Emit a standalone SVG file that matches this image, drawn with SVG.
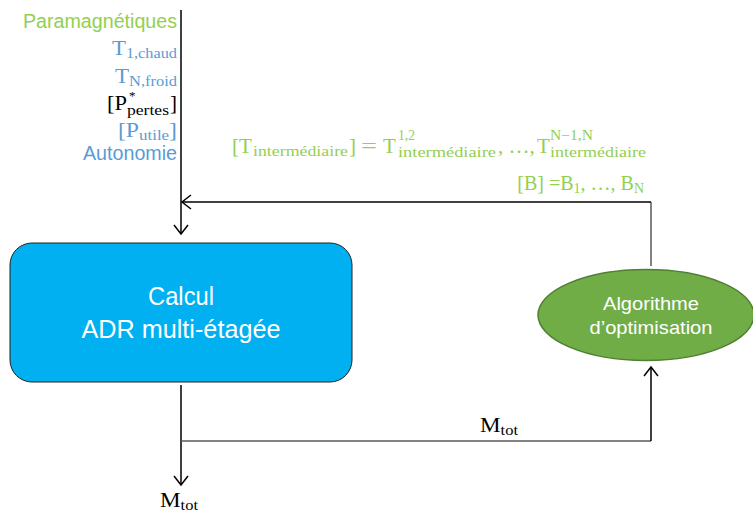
<svg xmlns="http://www.w3.org/2000/svg" width="753" height="513" viewBox="0 0 753 513">
<defs>
<marker id="arr" markerUnits="userSpaceOnUse" markerWidth="20" markerHeight="20" refX="10" refY="8" orient="auto">
<path d="M1,1 L10,8 L1,15" fill="none" stroke="#000" stroke-width="1.5"/>
</marker>
<style>
.sans{font-family:"Liberation Sans",Arial,sans-serif}
.serif{font-family:"Liberation Serif","Times New Roman",serif}
.green{fill:#92D050}
.blue{fill:#5B9BD5}
.wht{fill:#FFFFFF}
.blk{fill:#000000}
.line{fill:none;stroke:#000;stroke-width:1.5}
.gline{fill:none;stroke:#595959;stroke-width:1.5}
</style>
</defs>
<rect width="753" height="513" fill="#FFFFFF"/>

<g id="connectors">
<path class="line" d="M181,10 L181,234" marker-end="url(#arr)"/>
<path class="gline" d="M651,266 L651,202"/>
<path class="line" d="M651,202 L182,202" marker-end="url(#arr)"/>
<path class="line" d="M181,385 L181,485" marker-end="url(#arr)"/>
<path class="gline" d="M181,441 L651,441"/>
<path class="line" d="M651,441 L651,367" marker-end="url(#arr)"/>
</g>

<g id="inputs-labels">
<text class="sans green" x="177" y="28" font-size="20" text-anchor="end" textLength="154" lengthAdjust="spacingAndGlyphs">Paramagnétiques</text>
<text class="serif blue" x="177" y="55" font-size="21" text-anchor="end" textLength="65" lengthAdjust="spacingAndGlyphs">T<tspan font-size="15" dy="3">1,chaud</tspan></text>
<text class="serif blue" x="177" y="83" font-size="21" text-anchor="end" textLength="62" lengthAdjust="spacingAndGlyphs">T<tspan font-size="15" dy="3">N,froid</tspan></text>
<text class="serif blk" x="107" y="110" font-size="21" textLength="20" lengthAdjust="spacingAndGlyphs">[P</text>
<text class="serif blk" x="129" y="100" font-size="13">*</text>
<text class="serif blk" x="127" y="115" font-size="14" textLength="42" lengthAdjust="spacingAndGlyphs">pertes</text>
<text class="serif blk" x="170" y="110" font-size="21">]</text>
<text class="serif blue" x="177" y="137" font-size="21" text-anchor="end" textLength="59" lengthAdjust="spacingAndGlyphs">[P<tspan font-size="15" dy="3">utile</tspan><tspan dy="-3">]</tspan></text>
<text class="sans blue" x="177" y="160" font-size="20" text-anchor="end" textLength="94" lengthAdjust="spacingAndGlyphs">Autonomie</text>
</g>

<g id="feedback-labels">
<text class="serif green" x="232" y="153" font-size="21">[T</text>
<text class="serif green" x="253" y="156" font-size="15" textLength="95" lengthAdjust="spacingAndGlyphs">intermédiaire</text>
<text class="serif green" x="349" y="153" font-size="21">]</text>
<text class="serif green" x="361" y="153" font-size="21" textLength="16" lengthAdjust="spacingAndGlyphs">=</text>
<text class="serif green" x="383" y="153" font-size="21">T</text>
<text class="serif green" x="398" y="140" font-size="14" textLength="17" lengthAdjust="spacingAndGlyphs">1,2</text>
<text class="serif green" x="398" y="157" font-size="15" textLength="98" lengthAdjust="spacingAndGlyphs">intermédiaire</text>
<text class="serif green" x="498" y="153" font-size="21">, …,</text>
<text class="serif green" x="537" y="153" font-size="21">T</text>
<text class="serif green" x="550" y="140" font-size="14" textLength="43" lengthAdjust="spacingAndGlyphs">N−1,N</text>
<text class="serif green" x="550" y="157" font-size="15" textLength="96" lengthAdjust="spacingAndGlyphs">intermédiaire</text>
<text class="serif green" x="644" y="190" font-size="20" text-anchor="end">[B] =B<tspan font-size="14" dy="3">1</tspan><tspan dy="-3">, …, B</tspan><tspan font-size="14" dy="3">N</tspan></text>
</g>

<g id="calcul-adr">
<rect x="10" y="243" width="342" height="139" rx="22" ry="22" fill="#00B0F0" stroke="#1F1F1F" stroke-width="1"/>
<text class="sans wht" x="181" y="305" font-size="26" text-anchor="middle" textLength="66" lengthAdjust="spacingAndGlyphs">Calcul</text>
<text class="sans wht" x="181" y="338" font-size="26" text-anchor="middle" textLength="199" lengthAdjust="spacingAndGlyphs">ADR multi-étagée</text>
</g>

<g id="algorithme">
<ellipse cx="646" cy="315" rx="108" ry="45.5" fill="#70AD47" stroke="#507E32" stroke-width="1.5"/>
<text class="sans wht" x="651" y="310" font-size="19" text-anchor="middle" textLength="96" lengthAdjust="spacingAndGlyphs">Algorithme</text>
<text class="sans wht" x="651" y="334" font-size="19" text-anchor="middle" textLength="123" lengthAdjust="spacingAndGlyphs">d’optimisation</text>
</g>

<g id="mtot-labels">
<text class="serif blk" x="480" y="432" font-size="21" textLength="38" lengthAdjust="spacingAndGlyphs">M<tspan font-size="15" dy="3">tot</tspan></text>
<text class="serif blk" x="160" y="507" font-size="21" textLength="38" lengthAdjust="spacingAndGlyphs">M<tspan font-size="15" dy="3">tot</tspan></text>
</g>
</svg>
